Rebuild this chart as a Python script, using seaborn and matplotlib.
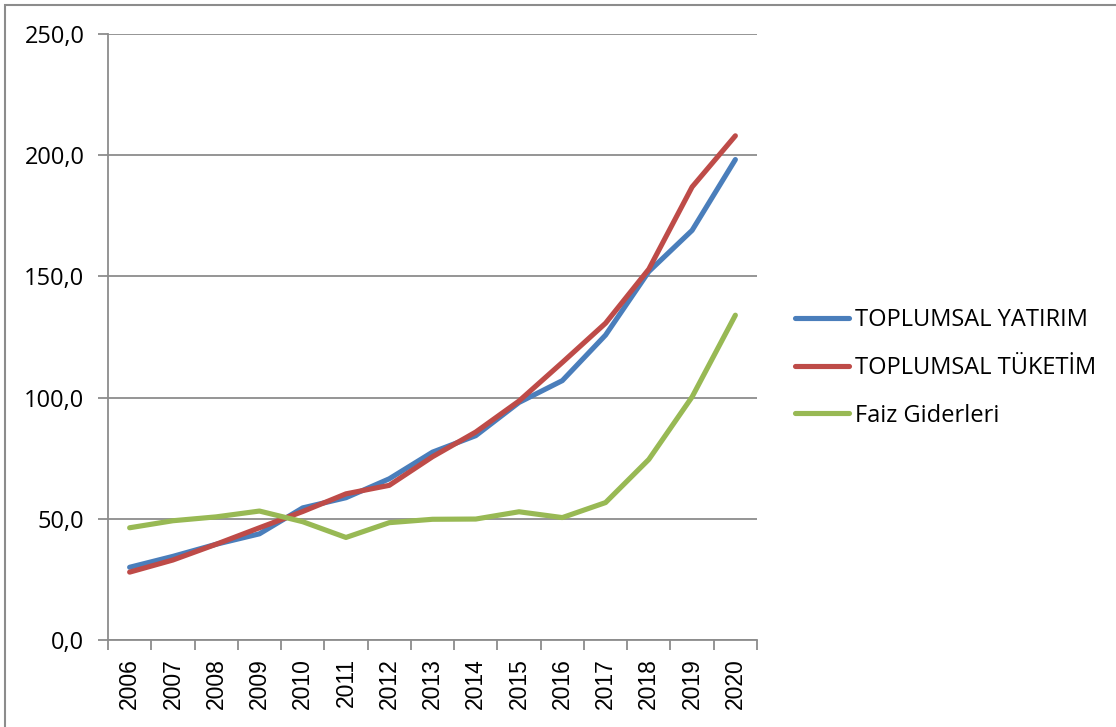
import matplotlib
matplotlib.use("Agg")
import matplotlib.pyplot as plt
import seaborn as sns
import pandas as pd
from matplotlib.patches import Rectangle
from matplotlib.ticker import FuncFormatter, FixedLocator

years = ["2006", "2007", "2008", "2009", "2010", "2011", "2012", "2013",
         "2014", "2015", "2016", "2017", "2018", "2019", "2020"]
yatirim = [30.0, 34.5, 39.5, 43.8, 54.5, 58.7, 66.5, 77.5, 84.3, 98.0, 107.0, 125.8, 152.0, 169.0, 198.2]
tuketim = [28.0, 33.0, 39.5, 46.3, 53.0, 60.3, 63.8, 75.6, 85.8, 98.6, 114.5, 130.7, 153.0, 186.9, 208.0]
faiz = [46.3, 49.2, 50.8, 53.2, 48.8, 42.3, 48.4, 49.8, 49.9, 52.9, 50.5, 56.7, 74.5, 100.3, 134.0]
series_names = ["TOPLUMSAL YATIRIM", "TOPLUMSAL TÜKETİM", "Faiz Giderleri"]
colors = ["#4A7EBB", "#BE4B48", "#98B954"]

df = pd.concat([
    pd.DataFrame({"Yıl": years, "Değer": vals, "Seri": name})
    for name, vals in zip(series_names, [yatirim, tuketim, faiz])
], ignore_index=True)

sns.set_theme(style="white")
plt.rcParams["font.family"] = ["Open Sans", "DejaVu Sans"]

fig = plt.figure(figsize=(11.16, 7.27), dpi=100)
ax = fig.add_axes([108/1116, 1-640/727, (757-108)/1116, (640-34)/727])

sns.lineplot(data=df, x="Yıl", y="Değer", hue="Seri", palette=colors,
             linewidth=3.7, sort=False, ax=ax, legend=True)

ax.set_xlim(-0.5, len(years) - 0.5)
ax.set_ylim(0, 250)
ax.set_yticks([0, 50, 100, 150, 200, 250])
ax.yaxis.set_major_formatter(FuncFormatter(lambda v, p: f"{v:.1f}".replace(".", ",")))
ax.grid(axis="y", color="#8C8C8C", linewidth=1.3)
ax.set_axisbelow(True)

ax.set_xticks(range(len(years)))
ax.set_xticklabels(years, rotation=90, family=["Liberation Sans", "DejaVu Sans"])
ax.xaxis.set_minor_locator(FixedLocator([i - 0.5 for i in range(len(years) + 1)]))
ax.tick_params(axis="x", which="major", length=0, pad=13, labelsize=16.5, colors="black")
ax.tick_params(axis="x", which="minor", length=7, width=1.3, color="#8C8C8C", bottom=True)
ax.tick_params(axis="y", which="major", length=7, width=1.3, color="#8C8C8C", left=True,
               labelsize=17, labelcolor="black", pad=10)

for s in ["top", "right"]:
    ax.spines[s].set_visible(False)
for s in ["left", "bottom"]:
    ax.spines[s].set_color("#8C8C8C")
    ax.spines[s].set_linewidth(1.3)

ax.set_xlabel("")
ax.set_ylabel("")

handles, labels = ax.get_legend_handles_labels()
ax.get_legend().remove()
leg = fig.legend(handles, labels, loc="center left", bbox_to_anchor=(795/1116, 1-368/727),
                 frameon=False, fontsize=17, handlelength=2.3, handletextpad=0.25,
                 labelspacing=1.0, borderpad=0, borderaxespad=0)
for line in leg.get_lines():
    line.set_linewidth(3.7)
for t in leg.get_texts():
    t.set_color("black")

fig.patches.append(Rectangle((5/1116, -0.1), 1.2, 1.1 - 5/727, transform=fig.transFigure,
                             fill=False, edgecolor="#8C8C8C", linewidth=1.5))

fig.savefig("out.png", dpi=100, facecolor="white")
